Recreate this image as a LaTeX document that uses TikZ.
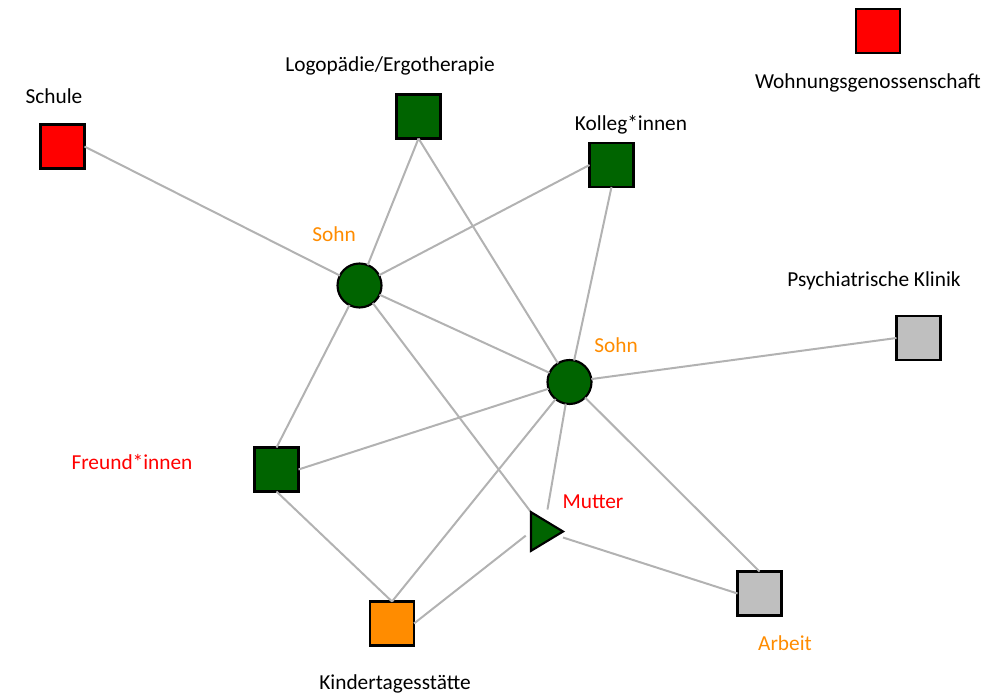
\documentclass[tikz,border=0pt]{standalone}
\usepackage{fontspec}
\setmainfont{Carlito}
\usetikzlibrary{positioning}
\definecolor{netgreen}{RGB}{0,100,0}
\definecolor{netred}{RGB}{255,0,0}
\definecolor{netorange}{RGB}{255,140,0}
\definecolor{netgray}{RGB}{191,191,191}
\definecolor{edgegray}{RGB}{178,178,178}

\begin{document}
\begin{tikzpicture}[x=0.75pt,y=-0.75pt,
  actor/.style={draw=black, line width=1.6pt, minimum size=33pt, inner sep=0pt, outer sep=0pt},
  sq/.style={actor, rectangle},
  pers/.style={actor, circle},
  tie/.style={draw=edgegray, line width=1.5pt},
  lbl/.style={font=\fontsize{16}{19}\selectfont, inner sep=0pt}]
  \useasboundingbox (0,0) rectangle (1005,695);
  %--------------- persons ---------------
  \node[pers, fill=netgreen] (sohnA) at (359.5,285.5) {};
  \node[pers, fill=netgreen] (sohnB) at (569.5,382) {};
  % Mutter: box only, triangle drawn below
  \node[minimum width=24pt, minimum height=29pt, inner sep=0pt, outer sep=0pt] (mutter) at (547,531.5) {};
  %--------------- institutions ---------------
  \node[sq, fill=netred] (schule) at (62.5,146.5) {};
  \node[sq, fill=netgreen] (logo) at (418.5,116.5) {};
  \node[sq, fill=netgreen] (kolleg) at (611.5,165) {};
  \node[sq, fill=netred] (wohnung) at (878,31) {};
  \node[sq, fill=netgray] (klinik) at (918.5,338) {};
  \node[sq, fill=netgreen] (freund) at (276.5,469.5) {};
  \node[sq, fill=netorange] (kita) at (392,623.5) {};
  \node[sq, fill=netgray] (arbeit) at (759.5,593.5) {};
  %--------------- ties ---------------
  \draw[tie] (schule.east) -- (sohnA);
  \draw[tie] (logo.south) -- (sohnA);
  \draw[tie] (logo.south) -- (sohnB);
  \draw[tie] (kolleg.west) -- (sohnA);
  \draw[tie] (kolleg.south) -- (sohnB);
  \draw[tie] (sohnA) -- (sohnB);
  \draw[tie] (sohnA) -- (freund.north);
  \draw[tie] (sohnA) -- (mutter.north west);
  \draw[tie] (sohnB) -- (klinik.west);
  \draw[tie] (sohnB) -- (freund.east);
  \draw[tie] (sohnB) -- (kita.north);
  \draw[tie, shorten >=2pt] (sohnB) -- (mutter.north);
  \draw[tie] (sohnB) -- (arbeit.north);
  \draw[tie] (freund.south) -- (kita.north);
  \draw[tie, shorten >=5pt] (kita.east) -- (mutter.west);
  \draw[tie] (mutter.east) ++(0,6) -- (arbeit.west);
  % triangle
  \filldraw[fill=netgreen, line width=1.6pt, line join=miter]
    (mutter.north west) -- (mutter.south west) -- (mutter.east) -- cycle;
  %--------------- labels ---------------
  \node[lbl] (lschule) at (54,96) {Schule};
  \node[lbl] (llogo) at (390,66) {Logopädie/Ergotherapie};
  \node[lbl] (lkolleg) at (631,125) {Kolleg*innen};
  \node[lbl] (lwohnung) at (868,83) {Wohnungsgenossenschaft};
  \node[lbl] (lklinik) at (874,281) {Psychiatrische Klinik};
  \node[lbl, text=netorange] (lsohnA) at (334,234) {Sohn};
  \node[lbl, text=netorange] (lsohnB) at (616,345) {Sohn};
  \node[lbl, text=netred] (lfreund) at (132,462) {Freund*innen};
  \node[lbl, text=netred] (lmutter) at (593,502) {Mutter};
  \node[lbl] (lkita) at (395,684) {Kindertagesstätte};
  \node[lbl, text=netorange] (larbeit) at (785,643) {Arbeit};
\end{tikzpicture}
\end{document}
